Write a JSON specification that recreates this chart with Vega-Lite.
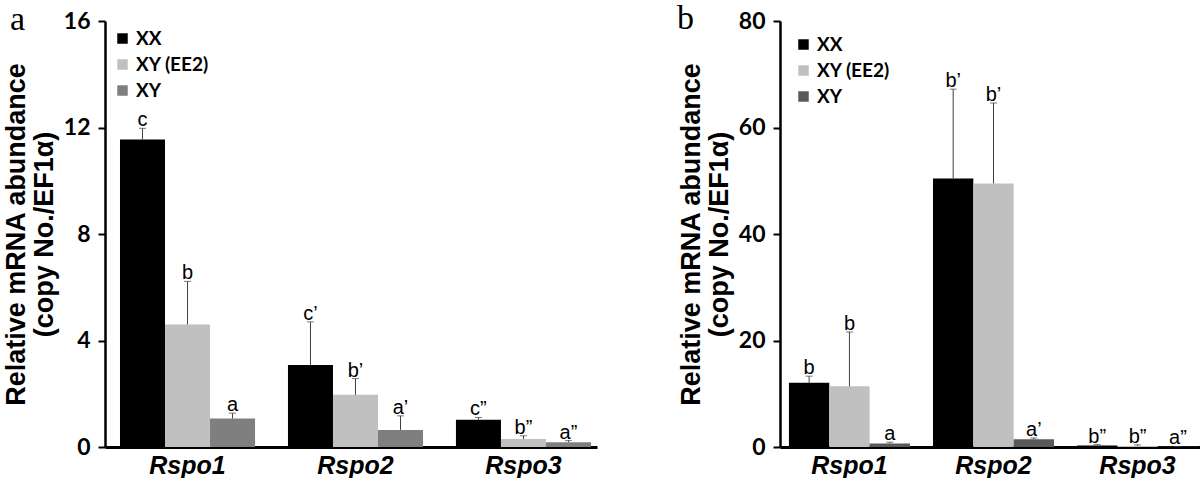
{
  "$schema": "https://vega.github.io/schema/vega-lite/v6.json",
  "background": "white",
  "padding": {"left": 2, "top": 2, "right": 0, "bottom": 0},
  "datasets": {
    "d": [
      {"panel": "a", "gene": "Rspo1", "group": "XX", "value": 11.55, "hi": 11.97, "letter": "c"},
      {"panel": "a", "gene": "Rspo1", "group": "XY (EE2)", "value": 4.6, "hi": 6.22, "letter": "b"},
      {"panel": "a", "gene": "Rspo1", "group": "XY", "value": 1.07, "hi": 1.27, "letter": "a"},
      {"panel": "a", "gene": "Rspo2", "group": "XX", "value": 3.08, "hi": 4.7, "letter": "c’"},
      {"panel": "a", "gene": "Rspo2", "group": "XY (EE2)", "value": 1.96, "hi": 2.57, "letter": "b’"},
      {"panel": "a", "gene": "Rspo2", "group": "XY", "value": 0.64, "hi": 1.17, "letter": "a’"},
      {"panel": "a", "gene": "Rspo3", "group": "XX", "value": 1.02, "hi": 1.11, "letter": "c”"},
      {"panel": "a", "gene": "Rspo3", "group": "XY (EE2)", "value": 0.3, "hi": 0.42, "letter": "b”"},
      {"panel": "a", "gene": "Rspo3", "group": "XY", "value": 0.18, "hi": 0.24, "letter": "a”"},
      {"panel": "b", "gene": "Rspo1", "group": "XX", "value": 12.06, "hi": 13.3, "letter": "b"},
      {"panel": "b", "gene": "Rspo1", "group": "XY (EE2)", "value": 11.4, "hi": 21.6, "letter": "b"},
      {"panel": "b", "gene": "Rspo1", "group": "XY", "value": 0.65, "hi": 0.9, "letter": "a"},
      {"panel": "b", "gene": "Rspo2", "group": "XX", "value": 50.4, "hi": 67.2, "letter": "b’"},
      {"panel": "b", "gene": "Rspo2", "group": "XY (EE2)", "value": 49.5, "hi": 64.6, "letter": "b’"},
      {"panel": "b", "gene": "Rspo2", "group": "XY", "value": 1.45, "hi": 1.7, "letter": "a’"},
      {"panel": "b", "gene": "Rspo3", "group": "XX", "value": 0.3, "hi": 0.45, "letter": "b”"},
      {"panel": "b", "gene": "Rspo3", "group": "XY (EE2)", "value": 0.2, "hi": 0.4, "letter": "b”"},
      {"panel": "b", "gene": "Rspo3", "group": "XY", "value": 0.05, "hi": 0.1, "letter": "a”"}
    ]
  },
  "data": {"name": "d"},
  "spacing": 80,
  "resolve": {
    "scale": {"color": "independent", "y": "independent", "x": "independent", "xOffset": "independent"},
    "legend": {"color": "independent"}
  },
  "hconcat": [
    {
      "width": 492,
      "height": 426,
      "title": {"text": "a", "anchor": "start", "frame": "group", "dx": -95, "offset": -54, "baseline": "alphabetic", "font": "Liberation Serif", "fontSize": 34, "fontWeight": "normal", "color": "black"},
      "transform": [{"filter": "datum.panel == 'a'"}],
      "encoding": {
        "x": {
          "field": "gene", "type": "nominal", "sort": ["Rspo1", "Rspo2", "Rspo3"],
          "scale": {"paddingInner": 0.196, "paddingOuter": 0.0625, "align": 0.714},
          "axis": {"title": null, "labelAngle": 0, "ticks": false, "domainWidth": 3, "domainColor": "black", "labelFont": "Liberation Sans", "labelFontStyle": "italic", "labelFontWeight": "bold", "labelFontSize": 25, "labelColor": "black", "labelPadding": 6}
        },
        "xOffset": {"field": "group", "type": "nominal", "sort": ["XX", "XY (EE2)", "XY"], "scale": {"paddingInner": 0, "paddingOuter": 0}}
      },
      "layer": [
        {
          "mark": {"type": "bar"},
          "encoding": {
            "y": {
              "field": "value", "type": "quantitative", "scale": {"domain": [0, 16], "nice": false},
              "axis": {"values": [0, 4, 8, 12, 16], "grid": false, "tickSize": 7, "tickWidth": 2, "tickColor": "black", "domainWidth": 2.5, "domainColor": "black", "labelFont": "Lato", "labelFontWeight": "bold", "labelFontSize": 23, "labelColor": "black", "labelPadding": 8,
                "title": ["Relative mRNA abundance", "(copy No./EF1α)"], "titleFont": "Liberation Sans", "titleFontWeight": "bold", "titleFontSize": 27, "titleLineHeight": 28, "titleColor": "black", "titlePadding": 5}
            },
            "color": {
              "field": "group", "type": "nominal", "sort": ["XX", "XY (EE2)", "XY"],
              "scale": {"domain": ["XX", "XY (EE2)", "XY"], "range": ["#000000", "#c0c0c0", "#7f7f7f"]},
              "legend": {"orient": "top-left", "offset": 8, "title": null, "symbolType": "square", "symbolSize": 110, "symbolStrokeWidth": 0, "labelFont": "Lato", "labelFontWeight": "bold", "labelFontSize": 19, "labelColor": "black", "rowPadding": 6, "labelOffset": 4}
            }
          }
        },
        {
          "mark": {"type": "rule", "color": "#404040", "strokeWidth": 1},
          "encoding": {"y": {"field": "value", "type": "quantitative"}, "y2": {"field": "hi"}}
        },
        {
          "mark": {"type": "tick", "color": "#404040", "size": 7, "thickness": 1},
          "encoding": {"y": {"field": "hi", "type": "quantitative"}}
        },
        {
          "mark": {"type": "text", "font": "Liberation Sans", "fontSize": 20, "color": "black", "baseline": "alphabetic", "dy": -2},
          "encoding": {"y": {"field": "hi", "type": "quantitative"}, "text": {"field": "letter"}}
        }
      ]
    },
    {
      "width": 429,
      "height": 426,
      "title": {"text": "b", "anchor": "start", "frame": "group", "dx": -103, "offset": -53, "baseline": "alphabetic", "font": "Liberation Serif", "fontSize": 34, "fontWeight": "normal", "color": "black"},
      "transform": [{"filter": "datum.panel == 'b'"}],
      "encoding": {
        "x": {
          "field": "gene", "type": "nominal", "sort": ["Rspo1", "Rspo2", "Rspo3"],
          "scale": {"paddingInner": 0.16, "paddingOuter": 0.069, "align": 0.45},
          "axis": {"title": null, "labelAngle": 0, "ticks": false, "domainWidth": 3, "domainColor": "black", "labelFont": "Liberation Sans", "labelFontStyle": "italic", "labelFontWeight": "bold", "labelFontSize": 25, "labelColor": "black", "labelPadding": 6}
        },
        "xOffset": {"field": "group", "type": "nominal", "sort": ["XX", "XY (EE2)", "XY"], "scale": {"paddingInner": 0, "paddingOuter": 0}}
      },
      "layer": [
        {
          "mark": {"type": "bar"},
          "encoding": {
            "y": {
              "field": "value", "type": "quantitative", "scale": {"domain": [0, 80], "nice": false},
              "axis": {"values": [0, 20, 40, 60, 80], "grid": false, "tickSize": 7, "tickWidth": 2, "tickColor": "black", "domainWidth": 2.5, "domainColor": "black", "labelFont": "Lato", "labelFontWeight": "bold", "labelFontSize": 23, "labelColor": "black", "labelPadding": 8,
                "title": ["Relative mRNA abundance", "(copy No./EF1α)"], "titleFont": "Liberation Sans", "titleFontWeight": "bold", "titleFontSize": 27, "titleLineHeight": 28, "titleColor": "black", "titlePadding": 5}
            },
            "color": {
              "field": "group", "type": "nominal", "sort": ["XX", "XY (EE2)", "XY"],
              "scale": {"domain": ["XX", "XY (EE2)", "XY"], "range": ["#000000", "#c0c0c0", "#595959"]},
              "legend": {"orient": "top-left", "offset": 14, "title": null, "symbolType": "square", "symbolSize": 110, "symbolStrokeWidth": 0, "labelFont": "Lato", "labelFontWeight": "bold", "labelFontSize": 19, "labelColor": "black", "rowPadding": 6, "labelOffset": 4}
            }
          }
        },
        {
          "mark": {"type": "rule", "color": "#404040", "strokeWidth": 1},
          "encoding": {"y": {"field": "value", "type": "quantitative"}, "y2": {"field": "hi"}}
        },
        {
          "mark": {"type": "tick", "color": "#404040", "size": 7, "thickness": 1},
          "encoding": {"y": {"field": "hi", "type": "quantitative"}}
        },
        {
          "mark": {"type": "text", "font": "Liberation Sans", "fontSize": 20, "color": "black", "baseline": "alphabetic", "dy": -2},
          "encoding": {"y": {"field": "hi", "type": "quantitative"}, "text": {"field": "letter"}}
        }
      ]
    }
  ],
  "config": {"view": {"stroke": null}}
}
